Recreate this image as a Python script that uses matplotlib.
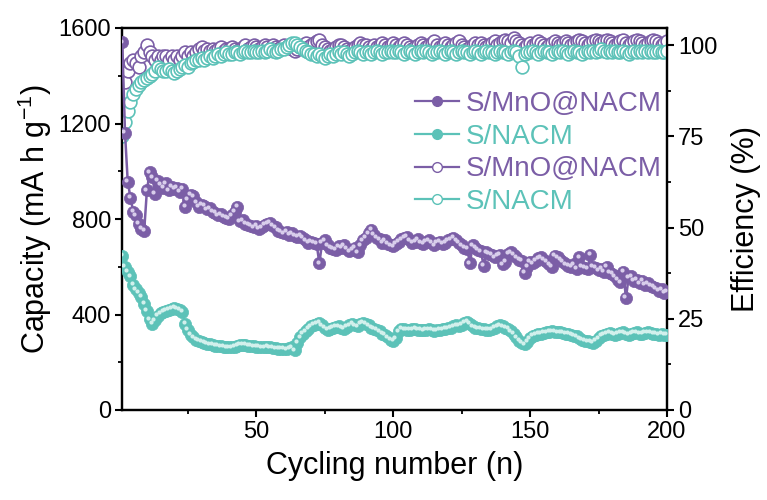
import matplotlib
matplotlib.use("Agg")
import matplotlib.pyplot as plt
from matplotlib.lines import Line2D
from matplotlib.ticker import MultipleLocator
from matplotlib.transforms import offset_copy
import numpy as np

plt.rcParams['font.family'] = ['Liberation Sans', 'DejaVu Sans']

cycles = list(range(1, 201))

cap_mno = [
    1540, 1160, 955, 890, 830, 815, 780, 760, 750, 920,
    995, 975, 905, 960, 945, 930, 950, 920, 935, 925,
    930, 915, 925, 850, 880, 900, 895, 870, 850, 860,
    855, 840, 845, 830, 825, 815, 820, 810, 805, 800,
    815, 830, 850, 790, 795, 780, 775, 770, 765, 770,
    760, 765, 775, 780, 785, 770, 765, 750, 745, 740,
    745, 735, 740, 730, 725, 730, 720, 710, 700, 705,
    700, 695, 615, 700, 710, 690, 680, 675, 670, 685,
    680, 690, 675, 665, 670, 680, 660, 690, 710, 720,
    740, 755, 735, 720, 715, 700, 710, 695, 690, 685,
    695, 705, 715, 720, 725, 710, 700, 705, 715, 700,
    695, 705, 710, 700, 690, 700, 705, 695, 700, 710,
    715, 720, 710, 700, 690, 680, 675, 615, 690, 680,
    670, 665, 605, 660, 655, 650, 640, 645, 650, 610,
    620, 655, 660, 650, 640, 630, 625, 575, 600, 620,
    615, 625, 635, 640, 630, 620, 610, 600, 645, 640,
    630, 620, 610, 605, 600, 610, 590, 640, 600, 595,
    590, 650, 600, 595, 585, 590, 580, 600, 575, 570,
    560, 545, 535, 580, 470, 555, 560, 540, 545, 530,
    540, 525, 530, 520, 515, 510, 500, 505, 490, 495,
]

cap_nacm = [
    645, 600, 580, 560, 525, 505, 490, 475, 445, 415,
    380, 360, 375, 395, 405, 410, 415, 420, 425, 428,
    425, 420, 410, 360, 335, 315, 305, 295, 290, 285,
    282, 278, 275, 272, 270, 268, 266, 265, 263, 262,
    263, 264, 268, 272, 274, 273, 270, 268, 266, 265,
    264, 262, 263, 265, 262, 260, 258, 257, 256, 255,
    254, 258, 262, 250, 280, 305, 320, 330, 340, 350,
    358, 362, 365, 355, 345, 336, 340, 345, 348, 350,
    345, 340, 348, 355, 360, 355, 350, 360, 365, 362,
    355, 345, 340, 335, 330, 320, 315, 305, 295, 290,
    300, 330, 340, 338, 335, 336, 338, 340, 337, 335,
    333, 336, 338, 335, 332, 334, 336, 338, 340, 342,
    345, 350, 355, 352, 358, 365, 370, 360, 350, 345,
    342, 340, 338, 335, 336, 338, 345, 350, 355, 350,
    345, 340, 330, 320, 305, 290, 280, 275, 285, 300,
    310, 315, 318, 320, 322, 325, 328, 330, 328, 325,
    325, 322, 320, 318, 316, 312, 308, 300, 295, 290,
    288, 285, 282, 290, 300, 310, 315, 320, 322, 318,
    315, 318, 322, 325, 320, 315, 318, 322, 325, 320,
    318, 322, 325, 323, 320, 318, 315, 318, 316, 314,
]

eff_mno = [
    91, 90, 93, 95, 96, 95, 94, 97, 98, 100,
    98, 97, 96, 97, 96, 97, 97, 96, 97, 96,
    97, 96, 97, 98, 97, 98, 97, 98, 99, 99.5,
    98.5, 99, 98.5, 99, 98.5, 99, 99.5, 98.5, 99, 99,
    99.5, 99, 98.5, 99, 99.5, 100, 99, 99.5, 100, 99.5,
    99, 99.5, 100, 99.5, 99, 100, 99.5, 99, 99.5, 100,
    99.5, 100, 99, 98.5, 99, 99.5, 100, 100.5, 99.5, 100,
    100.5, 101, 101.5, 100, 99.5, 99, 98.5, 99, 99.5, 100,
    100, 99.5, 99, 98.5, 99, 99.5, 100, 100.5, 100, 100,
    99.5, 99, 100, 99.5, 100, 100.5, 100, 99.5, 100, 100.5,
    100, 99.5, 100, 100.5, 100, 99.5, 99, 99.5, 100, 100.5,
    100, 99.5, 100, 100.5, 101, 100, 99.5, 100, 100.5, 100,
    99.5, 100, 100.5, 101, 100, 99.5, 99, 99.5, 100, 100.5,
    100, 100.5, 100, 99.5, 100, 100.5, 101, 100, 100.5, 101,
    101.5, 101, 100.5, 102, 101, 100.5, 100, 99.5, 100, 100.5,
    100, 100.5, 101, 100.5, 100, 99.5, 100, 100.5, 101, 100.5,
    100, 100.5, 101, 100.5, 100, 100.5, 101, 101.5, 101, 100.5,
    100, 100.5, 101, 101.5, 101, 100.5, 101, 101.5, 101, 100.5,
    100, 100.5, 101, 101.5, 100.5, 100, 100.5, 101, 101.5, 101,
    100.5, 100, 100.5, 101, 101.5, 101, 100.5, 100, 100.5, 101,
]

eff_nacm = [
    75, 79, 82, 84.5, 86.5, 88, 89, 90, 90.5, 91,
    91.5, 92, 93, 94, 93.5, 93, 93, 93.5, 93, 92.5,
    93, 93.5, 94, 94.5, 94, 95, 95.5, 96, 96, 96.5,
    96, 96.5, 97, 96.5, 97, 97.5, 97, 97.5, 98, 97.5,
    97.5, 98, 98, 97.5, 98, 98.5, 98, 98, 98.5, 98,
    98, 98.5, 98, 98.5, 99, 98.5, 98, 98.5, 99, 99,
    99.5, 100, 100.5, 100.5, 100, 99.5, 99, 98.5, 98, 97.5,
    97.5, 97, 97.5, 97, 96.5, 97, 97.5, 97, 97.5, 98,
    97.5, 98, 97.5, 97, 97.5, 98, 98.5, 98, 97.5, 98,
    98, 97.5, 98, 98.5, 98, 97.5, 98, 98, 98.5, 98,
    98, 98.5, 98, 97.5, 98, 98.5, 98, 97.5, 98, 98.5,
    98, 98.5, 98, 97.5, 98, 98, 98.5, 98, 97.5, 98,
    98.5, 98, 97.5, 98, 98.5, 98, 98, 97.5, 98, 98.5,
    98, 97.5, 98, 98.5, 98, 98, 97.5, 98, 98.5, 98,
    98, 97.5, 98, 98.5, 98, 97, 94, 97.5, 98, 98,
    98.5, 98, 97.5, 98, 98.5, 98, 98, 97.5, 98, 98.5,
    98, 98.5, 98, 97.5, 98, 98.5, 98, 98, 97.5, 98,
    98.5, 98, 98.5, 98, 98.5, 99, 98.5, 98, 98.5, 98,
    98.5, 98, 98, 98.5, 98, 97.5, 98, 98.5, 98, 98.5,
    98, 98.5, 98, 98.5, 98, 98, 98.5, 98, 98, 98.5,
]

labels = ["S/MnO@NACM", "S/NACM", "S/MnO@NACM", "S/NACM"]
x_ticks = [50, 100, 150, 200]
left_ticks = [0, 400, 800, 1200, 1600]
right_ticks = [0, 25, 50, 75, 100]

purple = '#7B5EA6'
teal = '#5CC2B8'
purple_hl = '#D8CDEB'
teal_hl = '#D2F0EC'

fig = plt.figure(figsize=(7.67, 5.0), dpi=100)
ax = fig.add_axes([122/767, 90/500, (667-122)/767, (410-28)/500])
ax2 = ax.twinx()

ax.set_zorder(2)
ax2.set_zorder(1)
ax.patch.set_visible(False)

hl_tr = offset_copy(ax.transData, fig=fig, x=-1.2, y=1.2, units='points')

# capacity (filled)
ax.plot(cycles, cap_mno, '-o', color=purple, lw=1.8, ms=8.8, mfc=purple, mec=purple, mew=0.5, zorder=3)
ax.plot(cycles, cap_mno, 'o', color=purple_hl, ms=3.0, mew=0, transform=hl_tr, zorder=4)
ax.plot(cycles, cap_nacm, '-o', color=teal, lw=1.8, ms=8.8, mfc=teal, mec=teal, mew=0.5, zorder=3)
ax.plot(cycles, cap_nacm, 'o', color=teal_hl, ms=3.0, mew=0, transform=hl_tr, zorder=4)

# efficiency (open)
ax2.plot(cycles, eff_mno, '-o', color=purple, lw=1.4, ms=9.2, mfc='white', mec=purple, mew=1.2, zorder=3)
ax2.plot(cycles, eff_nacm, '-o', color=teal, lw=1.4, ms=9.2, mfc='white', mec=teal, mew=1.2, zorder=4)

ax.set_xlim(0.9, 200)
ax.set_ylim(0, 1600)
ax2.set_ylim(0, 104.7)

ax.set_xticks(x_ticks)
ax.set_yticks(left_ticks)
ax2.set_yticks(right_ticks)
ax.xaxis.set_minor_locator(MultipleLocator(25))
ax.yaxis.set_minor_locator(MultipleLocator(200))
ax2.yaxis.set_minor_locator(MultipleLocator(12.5))

for a in (ax, ax2):
    for s in a.spines.values():
        s.set_linewidth(1.6)
    a.tick_params(which='major', direction='out', length=5, width=1.5, labelsize=17, pad=3)
    a.tick_params(which='minor', direction='out', length=3, width=1.3)

ax.set_xlabel("Cycling number (n)", fontsize=22, labelpad=6)
ax.set_ylabel("Capacity (mA h g$^{\\mathregular{-1}}$)", fontsize=22, labelpad=3)
ax2.set_ylabel("Efficiency (%)", fontsize=22, labelpad=10)

handles = [
    Line2D([], [], color=purple, lw=1.6, marker='o', ms=7, mfc=purple, mec=purple),
    Line2D([], [], color=teal, lw=1.6, marker='o', ms=7, mfc=teal, mec=teal),
    Line2D([], [], color=purple, lw=1.6, marker='o', ms=7, mfc='white', mec=purple, mew=1.0),
    Line2D([], [], color=teal, lw=1.6, marker='o', ms=7, mfc='white', mec=teal, mew=1.0),
]
leg = ax.legend(handles, labels, loc='upper left', bbox_to_anchor=(0.537, 0.835),
                frameon=False, fontsize=20, handlelength=1.6, handletextpad=0.25,
                labelspacing=0.24, borderpad=0, borderaxespad=0)
for t, c in zip(leg.get_texts(), [purple, teal, purple, teal]):
    t.set_color(c)

fig.savefig("out.png", dpi=100)
